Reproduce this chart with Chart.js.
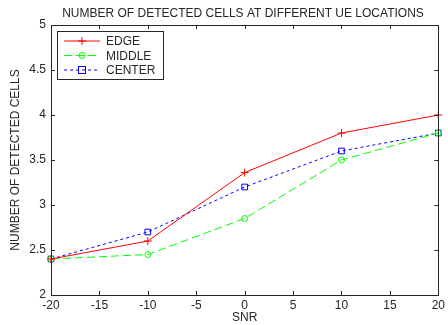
<!DOCTYPE html>
<html>
<head>
<meta charset="utf-8">
<script src="https://cdn.jsdelivr.net/npm/chart.js@4/dist/chart.umd.min.js"></script>
<style>
  html, body { margin: 0; padding: 0; background: #fff; }
  #wrap { width: 448px; height: 325px; }
</style>
</head>
<body>
<div id="wrap"><canvas id="chart" width="448" height="325"></canvas></div>
<script>
// chart data
const snr = [-20, -10, 0, 10, 20];
const edgeCells = [2.4, 2.6, 3.36, 3.8, 4.0];
const middleCells = [2.4, 2.45, 2.85, 3.5, 3.8];
const centerCells = [2.4, 2.7, 3.2, 3.6, 3.8];
const xTicks = [-20, -15, -10, -5, 0, 5, 10, 15, 20];
const yTicks = [2, 2.5, 3, 3.5, 4, 4.5, 5];

const FONT = 'Liberation Sans, Arial, sans-serif';
const INK = '#262626';

function pts(ys) {
    return snr.map((x, i) => ({ x: x, y: ys[i] }));
}

// box, inward ticks, title and a matlab-like legend
const matlabFrame = {
    id: 'matlabFrame',
    afterDraw(chart) {
        const ctx = chart.ctx;
        const a = chart.chartArea;
        const xs = chart.scales.x, ys = chart.scales.y;
        ctx.save();
        ctx.strokeStyle = INK;
        ctx.lineWidth = 1;
        ctx.strokeRect(Math.round(a.left) + 0.5, Math.round(a.top) + 0.5,
            Math.round(a.right - a.left), Math.round(a.bottom - a.top));
        ctx.beginPath();
        xTicks.forEach(v => {
            const px = Math.round(xs.getPixelForValue(v)) + 0.5;
            ctx.moveTo(px, a.bottom); ctx.lineTo(px, a.bottom - 4);
            ctx.moveTo(px, a.top); ctx.lineTo(px, a.top + 4);
        });
        yTicks.forEach(v => {
            const py = Math.round(ys.getPixelForValue(v)) + 0.5;
            ctx.moveTo(a.left, py); ctx.lineTo(a.left + 4, py);
            ctx.moveTo(a.right, py); ctx.lineTo(a.right - 4, py);
        });
        ctx.stroke();

        // title
        ctx.fillStyle = INK;
        ctx.font = '12px ' + FONT;
        ctx.textAlign = 'center';
        ctx.textBaseline = 'middle';
        ctx.fillText('NUMBER OF DETECTED CELLS AT DIFFERENT UE LOCATIONS', 243, 14);

        // legend
        const lx = a.left + 6, ly = a.top + 6, lw = 106, lh = 48;
        ctx.fillStyle = '#fff';
        ctx.fillRect(lx, ly, lw, lh);
        ctx.strokeStyle = INK;
        ctx.strokeRect(lx + 0.5, ly + 0.5, lw, lh);
        chart.data.datasets.forEach((ds, i) => {
            const y = ly + 10 + i * 14.5;
            ctx.strokeStyle = ds.borderColor;
            ctx.lineWidth = 1;
            ctx.setLineDash(ds.borderDash || []);
            ctx.beginPath();
            ctx.moveTo(lx + 7, y); ctx.lineTo(lx + 43, y);
            ctx.stroke();
            ctx.setLineDash([]);
            const cx = lx + 25;
            ctx.beginPath();
            if (ds.pointStyle === 'cross') {
                ctx.moveTo(cx, y - 4); ctx.lineTo(cx, y + 4);
                ctx.moveTo(cx - 4, y); ctx.lineTo(cx + 4, y);
                ctx.stroke();
            } else if (ds.pointStyle === 'circle') {
                ctx.arc(cx, y, 3, 0, Math.PI * 2);
                ctx.stroke();
            } else {
                ctx.strokeRect(cx - 3.5, y - 3.5, 7, 7);
            }
            ctx.fillStyle = INK;
            ctx.textAlign = 'left';
            ctx.font = '12px ' + FONT;
            ctx.fillText(ds.label, lx + 49, y + 1);
        });
        ctx.restore();
    }
};

new Chart(document.getElementById('chart'), {
    type: 'line',
    data: {
        datasets: [
            {
                label: 'EDGE',
                data: pts(edgeCells),
                borderColor: '#ff0000',
                backgroundColor: '#ff0000',
                borderWidth: 1,
                pointStyle: 'cross',
                pointRadius: 4,
                pointBorderWidth: 1,
                clip: false
            },
            {
                label: 'MIDDLE',
                data: pts(middleCells),
                borderColor: '#00ff00',
                backgroundColor: 'rgba(0,0,0,0)',
                borderWidth: 1,
                borderDash: [8, 4],
                pointStyle: 'circle',
                pointRadius: 3,
                pointBorderWidth: 1,
                clip: false
            },
            {
                label: 'CENTER',
                data: pts(centerCells),
                borderColor: '#0000ff',
                backgroundColor: 'rgba(0,0,0,0)',
                borderWidth: 1,
                borderDash: [3, 3],
                pointStyle: 'rect',
                pointRadius: 4,
                pointBorderWidth: 1,
                clip: false
            }
        ]
    },
    options: {
        responsive: false,
        animation: false,
        layout: { padding: { top: 25, right: 6, left: 0, bottom: 0 } },
        plugins: {
            legend: { display: false },
            title: { display: false },
            tooltip: { enabled: false }
        },
        scales: {
            x: {
                type: 'linear',
                min: -20,
                max: 20,
                afterBuildTicks: s => { s.ticks = xTicks.map(v => ({ value: v })); },
                afterFit: s => { s.height = 30; },
                grid: { display: false, drawTicks: false },
                border: { display: false },
                ticks: { color: INK, font: { family: FONT, size: 12 }, padding: 3, maxRotation: 0 },
                title: { display: true, text: 'SNR', color: INK, font: { family: FONT, size: 12 }, padding: { top: 0, bottom: 0 } }
            },
            y: {
                min: 2,
                max: 5,
                afterBuildTicks: s => { s.ticks = yTicks.map(v => ({ value: v })); },
                afterFit: s => { s.width = 51; },
                grid: { display: false, drawTicks: false },
                border: { display: false },
                ticks: {
                    color: INK, font: { family: FONT, size: 12 }, padding: 5,
                    callback: v => String(v)
                },
                title: { display: true, text: 'NUMBER OF DETECTED CELLS', color: INK, font: { family: FONT, size: 12 }, padding: { top: 8, bottom: 0 } }
            }
        }
    },
    plugins: [matlabFrame]
});
</script>
</body>
</html>
